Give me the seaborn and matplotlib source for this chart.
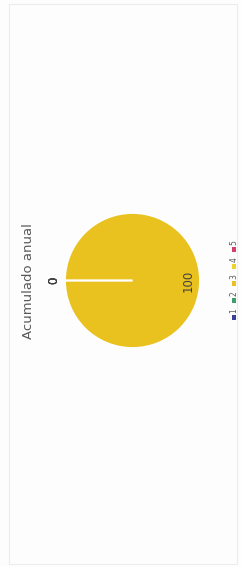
import numpy as np
import pandas as pd
import matplotlib
matplotlib.use("Agg")
import matplotlib.pyplot as plt
from matplotlib.patches import Rectangle
import seaborn as sns

# ---- data ----
categories = ["1", "2", "3", "4", "5"]
values = [0, 0, 100, 0, 0]
colors = ["#3a3f9a", "#3e9e6e", "#e9c21f", "#f0d22c", "#d4406a"]
title = "Acumulado anual"

sns.set_theme(style="white")
plt.rcParams["font.family"] = ["DejaVu Sans"]

W, H = 241, 567
fig = plt.figure(figsize=(W / 100, H / 100), dpi=100)
fig.patch.set_facecolor("#fdfdfd")

def px_axes(x0, y0, x1, y1):
    """axes from pixel box (top-left origin)"""
    return fig.add_axes([x0 / W, 1 - y1 / H, (x1 - x0) / W, (y1 - y0) / H])

# faint frame
fig.patches.append(Rectangle((9 / W, 3 / H), (237 - 9) / W, (563 - 3) / H,
                             transform=fig.transFigure, fill=False,
                             edgecolor="#ececec", linewidth=0.8))

# ---- pie (rotated 90 deg: starts at 9 o'clock, clockwise) ----
cx, cy, r = 132.5, 280.5, 67.5
ax = px_axes(cx - r, cy - r, cx + r, cy + r)
wedges, texts = ax.pie(values, colors=colors, startangle=180, counterclock=False,
                       labels=[str(v) for v in values], labeldistance=1.17,
                       radius=1, wedgeprops=dict(edgecolor="white", linewidth=1.3),
                       textprops=dict(fontsize=8.5, color="#404040"))
ax.set_xlim(-1, 1)
ax.set_ylim(-1, 1)
ax.set_aspect("auto")
ax.axis("off")
for w, t, v in zip(wedges, texts, values):
    t.set_rotation(90)
    t.set_ha("center")
    t.set_va("center")
    if v > 0:
        ang = np.deg2rad((w.theta1 + w.theta2) / 2)
        t.set_position((0.82 * np.cos(ang), 0.82 * np.sin(ang)))

# ---- title (rotated) ----
fig.text(29 / W, 1 - 281 / H, title, rotation=90, ha="center", va="center",
         fontsize=9.5, color="#595959")

# ---- legend (rotated, built with seaborn) ----
lax = px_axes(226, 241, 242, 326)
leg_df = pd.DataFrame({"x": [0] * len(categories),
                       "y": list(range(len(categories))),
                       "cat": categories})
sns.scatterplot(data=leg_df, x="x", y="y", hue="cat", palette=colors,
                marker="s", s=11, linewidth=0, legend=False, ax=lax)
lax.set_xlim(-1, 1)
lax.set_ylim(-0.5, len(categories) - 0.5)
lax.axis("off")
for i, c in enumerate(categories):
    lax.annotate(c, (0, i), xytext=(0, 7), textcoords="offset pixels",
                 rotation=90, ha="center", va="center", fontsize=5.5,
                 color="#595959")

fig.savefig("out.png", dpi=100, facecolor=fig.get_facecolor())
